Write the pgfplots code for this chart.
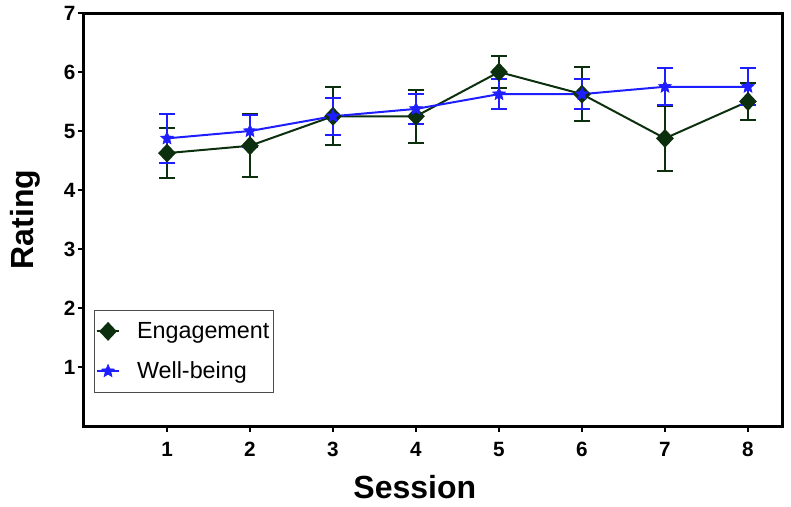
\documentclass[border=0pt]{standalone}
\usepackage{pgfplots}
\pgfplotsset{compat=1.18}
\usepackage{pgfplotstable}
\usepackage{fontspec}
\setmainfont{Liberation Sans}
\definecolor{eng}{RGB}{12,48,14}
\definecolor{wb}{RGB}{30,30,255}
\pgfdeclareplotmark{fstar}{%
  \pgfpathmoveto{\pgfqpointpolar{90}{\pgfplotmarksize}}%
  \pgfpathlineto{\pgfqpointpolar{126}{0.45\pgfplotmarksize}}%
  \pgfpathlineto{\pgfqpointpolar{162}{\pgfplotmarksize}}%
  \pgfpathlineto{\pgfqpointpolar{198}{0.45\pgfplotmarksize}}%
  \pgfpathlineto{\pgfqpointpolar{234}{\pgfplotmarksize}}%
  \pgfpathlineto{\pgfqpointpolar{270}{0.45\pgfplotmarksize}}%
  \pgfpathlineto{\pgfqpointpolar{306}{\pgfplotmarksize}}%
  \pgfpathlineto{\pgfqpointpolar{342}{0.45\pgfplotmarksize}}%
  \pgfpathlineto{\pgfqpointpolar{18}{\pgfplotmarksize}}%
  \pgfpathlineto{\pgfqpointpolar{54}{0.45\pgfplotmarksize}}%
  \pgfpathclose\pgfusepathqfillstroke}
\pgfplotstableread{
x y e
1 4.625 0.42
2 4.75 0.53
3 5.25 0.49
4 5.25 0.45
5 6.00 0.27
6 5.625 0.46
7 4.875 0.55
8 5.50 0.32
}\eng
\pgfplotstableread{
x y e
1 4.875 0.41
2 5.00 0.27
3 5.25 0.31
4 5.375 0.26
5 5.625 0.26
6 5.625 0.26
7 5.75 0.31
8 5.75 0.31
}\wb
\begin{document}
\begin{tikzpicture}
\begin{axis}[
  name=ax,
  scale only axis,
  width=523.5pt, height=309.75pt,
  xmin=0, xmax=8.41, ymin=0, ymax=7,
  xtick={1,...,8}, ytick={1,...,7},
  axis line style={line width=2.25pt},
  tick style={line width=1.8pt, black},
  major tick length=4.5pt,
  tick align=outside,
  xtick pos=bottom, ytick pos=left,
  /pgf/number format/assume math mode=true,
  xticklabel={\fontsize{15.5pt}{17pt}\selectfont\bfseries\pgfmathprintnumber{\tick}},
  yticklabel={\fontsize{15.5pt}{17pt}\selectfont\bfseries\pgfmathprintnumber{\tick}},
  xticklabel style={yshift=-4pt},
  yticklabel style={xshift=1.5pt},
  xlabel={Session}, ylabel={Rating},
  label style={font=\fontsize{24pt}{28pt}\selectfont\bfseries},
  xlabel style={at={(axis description cs:0.474,0)}, anchor=center, yshift=-45.75pt},
  ylabel style={at={(axis description cs:-0.0845,0.5)}, anchor=center},
  legend style={at={(0.0143,0.281)}, anchor=north west, draw=black!70, line width=0.6pt,
    font=\fontsize{17.5pt}{20pt}\selectfont, inner xsep=1pt, inner ysep=7pt, row sep=12pt,
    /tikz/every odd column/.append style={column sep=10.5pt}},
  legend cell align=left,
  legend image code/.code={\draw[mark repeat=2, mark phase=2, #1] plot coordinates {(0pt,0pt) (8.5pt,0pt) (17pt,0pt)};},
  error bars/y dir=both, error bars/y explicit,
]
\addplot[eng, line width=1.5pt, mark=diamond*, mark size=6pt, mark options={xscale=1.25, fill=eng, solid},
  error bars/error bar style={eng, line width=1.5pt},
  error bars/error mark options={rotate=90, eng, mark size=6pt, line width=1.5pt}]
  table[x=x, y=y, y error=e] {\eng};
\addlegendentry{Engagement}
\addplot[wb, line width=1.5pt, mark=fstar, mark size=5pt, mark options={fill=wb, line width=0.5pt, solid},
  error bars/error bar style={wb, line width=1.5pt},
  error bars/error mark options={rotate=90, wb, mark size=6pt, line width=1.5pt}]
  table[x=x, y=y, y error=e] {\wb};
\addlegendentry{Well-being}
\end{axis}
\pgfresetboundingbox
\path (ax.south west) ++(-63pt,-60pt) rectangle ++(593.25pt,379.5pt);
\end{tikzpicture}
\end{document}
